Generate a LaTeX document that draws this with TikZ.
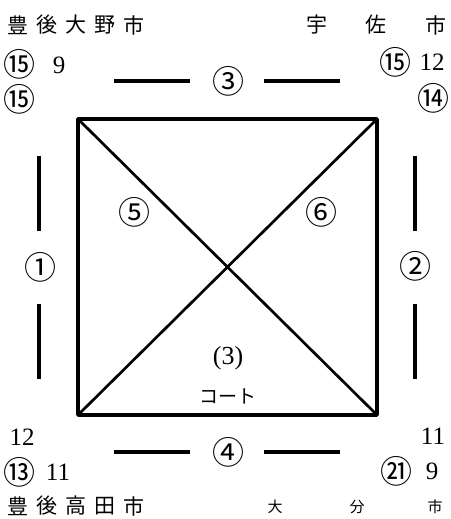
\documentclass[tikz,border=0pt]{standalone}
\usepackage{fontspec}
\setmainfont{Liberation Serif}
\newfontfamily\jp{Noto Sans CJK JP}
\begin{document}
\begin{tikzpicture}[x=1pt, y=-1pt, line join=round, font=\fontsize{25}{25}\selectfont,
	circ/.style={font=\jp\fontsize{32}{32}\selectfont, inner sep=0pt},
	num/.style={inner sep=0pt},
	city/.style={font=\jp\fontsize{21}{21}\selectfont, inner sep=0pt},
	citysm/.style={font=\jp\fontsize{15}{15}\selectfont, inner sep=0pt},
	bar/.style={line width=3.4pt}]
	\useasboundingbox (0,0) rectangle (450,519);
	% court
	\coordinate (A) at (78,119);
	\coordinate (B) at (377,119);
	\coordinate (C) at (377,415);
	\coordinate (D) at (78,415);
	\draw[line width=3.4pt] (A) -- (B) -- (C) -- (D) -- cycle;
	\draw[line width=2.7pt] (A) -- (C) (B) -- (D);
	% side bars
	\foreach \xa/\ya/\xb/\yb in {114/81/190/81, 264/81/340/81, 114/452/190/452, 264/452/340/452,
		39/156/39/231, 39/304/39/379, 415/156/415/231, 415/304/415/379}
	\draw[bar] (\xa,\ya) -- (\xb,\yb);
	% match numbers
	\foreach \p/\t/\x/\y in {m3/③/228/81, m4/④/228/452, m1/①/40/267, m2/②/415/266,
		m5/⑤/134/212, m6/⑥/321/212}
	\node[circ] (\p) at (\x,\y) {\t};
	\node[num] (ct) at (228,358) {\fontsize{26}{26}\selectfont(3)};
	\node[citysm] (court) at (228,396) {\fontsize{19}{19}\selectfont コート};
	% cities
	\foreach \c/\x [count=\i] in {豊/18, 後/47, 大/76, 野/105, 市/134}
	\node[city] (tl\i) at (\x,25) {\c};
	\foreach \c/\x [count=\i] in {豊/18, 後/47, 高/76, 田/105, 市/134}
	\node[city] (bl\i) at (\x,506) {\c};
	\foreach \c/\x [count=\i] in {宇/317, 佐/376, 市/436}
	\node[city] (tr\i) at (\x,25) {\c};
	\foreach \c/\x [count=\i] in {大/275, 分/357, 市/435}
	\node[citysm] (br\i) at (\x,507) {\c};
	% scores
	\foreach \p/\t/\x/\y in {s1/⑮/20/64, s2/⑮/20/99, s3/⑮/395/62, s4/⑭/433/98,
		s5/⑬/20/472, s6/㉑/396/471}
	\node[circ] (\p) at (\x,\y) {\t};
	\foreach \p/\t/\x/\y in {n1/9/59/65, n2/12/432/62, n3/12/22/437, n4/11/58/472,
		n5/11/433/436, n6/9/432/471}
	\node[num] (\p) at (\x,\y) {\t};
\end{tikzpicture}
\end{document}
